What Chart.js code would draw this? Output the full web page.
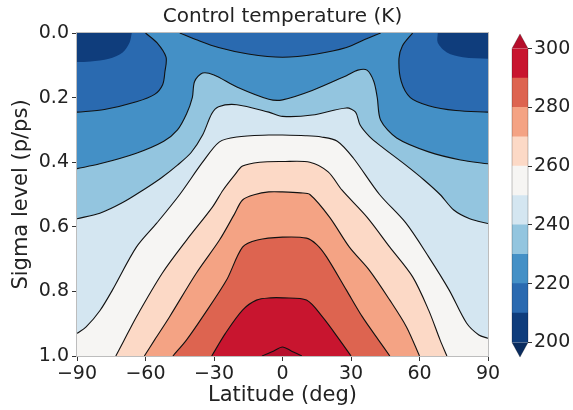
<!DOCTYPE html>
<html>
<head>
<meta charset="utf-8">
<script src="https://cdn.jsdelivr.net/npm/chart.js@4.4.1/dist/chart.umd.min.js"></script>
<style>
  html, body { margin: 0; padding: 0; background: #fff; }
  #wrap { position: relative; width: 573px; height: 410px; }
  #wrap canvas { position: absolute; left: 0; top: 0; }
</style>
</head>
<body>
<div id="wrap">
  <canvas id="tempChart" width="573" height="410" style="width:573px;height:410px"></canvas>
  <canvas id="cbarChart" width="573" height="410" style="width:573px;height:410px"></canvas>
</div>
<script>
// axes
const latRange = [-90, 90];
const sigmaRange = [0, 1];
const latStep = 30;
const sigmaStep = 0.2;

// contour levels (K) and fill colours for each interval
const levels = [200, 210, 220, 230, 240, 250, 260, 270, 280, 290, 300];
const bandColors = ['#0f3d7c', '#2a6ab0', '#4490c6', '#93c5df', '#d4e6f1', '#f6f5f3', '#fcd9c6', '#f4a384', '#dd6450', '#c8152f'];
const underColor = '#0a2c5e';
const overColor = '#b50e2b';

// contour lines, [latitude, sigma]
const c210West = [[-66, 0], [-67, 0.03], [-70, 0.06], [-76, 0.08], [-84, 0.088], [-90, 0.09]];
const c210East = [[68, 0], [68, 0.03], [72, 0.06], [79, 0.075], [90, 0.08]];
const c220West = [[-60, 0], [-55, 0.03], [-51, 0.075], [-51.5, 0.12], [-52.5, 0.16], [-56, 0.19], [-64, 0.213], [-78, 0.237], [-90, 0.245]];
const c220Mid = [[-45, 0], [-38, 0.02], [-28, 0.045], [-15, 0.065], [0, 0.075], [15, 0.065], [28, 0.045], [36, 0.02], [43, 0]];
const c220East = [[57, 0], [52.5, 0.04], [51, 0.08], [52, 0.15], [56, 0.2], [64, 0.225], [76, 0.24], [90, 0.245]];
const c230 = [[-90, 0.42], [-80, 0.405], [-64, 0.372], [-52, 0.335], [-46, 0.3], [-42, 0.25], [-39.5, 0.2], [-38.5, 0.15], [-35, 0.124],
    [-30, 0.13], [-20, 0.167], [-6, 0.205], [0, 0.207], [13, 0.178], [28, 0.132], [33, 0.115], [37, 0.115], [40, 0.15],
    [41.5, 0.2], [43, 0.27], [50, 0.325], [64, 0.368], [78, 0.393], [90, 0.405]];
const c240 = [[-90, 0.575], [-80, 0.558], [-70, 0.525], [-61, 0.486], [-53, 0.448], [-46, 0.409], [-40, 0.37], [-35, 0.316],
    [-31, 0.25], [-28, 0.228], [-20, 0.222], [-6, 0.245], [0, 0.258], [13, 0.254], [28, 0.232], [32, 0.245], [34, 0.285],
    [38, 0.32], [42.5, 0.347], [54, 0.409], [62, 0.455], [69, 0.5], [75, 0.548], [82, 0.575], [90, 0.59]];
const c250 = [[-90, 0.93], [-86, 0.91], [-80, 0.86], [-74.5, 0.796], [-64, 0.663], [-55, 0.588], [-45, 0.5], [-35, 0.4],
    [-27.6, 0.337], [-20, 0.322], [-6, 0.316], [0, 0.316], [10, 0.318], [17, 0.322], [24, 0.335], [31, 0.387], [42.5, 0.5],
    [54, 0.588], [64, 0.693], [73, 0.796], [80.6, 0.898], [86, 0.935], [90, 0.945]];
const c260 = [[-73, 1], [-70, 0.96], [-64, 0.879], [-52.6, 0.743], [-42, 0.641], [-30.7, 0.539], [-26, 0.486], [-21, 0.44],
    [-17.5, 0.412], [-10, 0.4], [0, 0.398], [12, 0.4], [20, 0.43], [26, 0.486], [37, 0.57], [47, 0.663], [57, 0.755],
    [64, 0.858], [69, 0.95], [72, 1]];
const c270 = [[-60.5, 1], [-56, 0.95], [-49.5, 0.879], [-37.7, 0.743], [-27.6, 0.641], [-21, 0.56], [-17.5, 0.517], [-12, 0.5],
    [-6, 0.492], [0, 0.492], [8, 0.495], [12, 0.5], [20.6, 0.57], [29.3, 0.663], [38, 0.734], [47, 0.827], [54.3, 0.91], [60, 1]];
const c280 = [[-48, 1], [-42, 0.95], [-35, 0.879], [-24.5, 0.765], [-17.5, 0.663], [-11, 0.641], [0, 0.632], [10.5, 0.635],
    [15, 0.655], [19.3, 0.693], [28, 0.796], [35, 0.879], [42, 0.95], [47, 1]];
const c290 = [[-31, 1], [-25, 0.93], [-17.5, 0.858], [-11.4, 0.827], [-5, 0.82], [0, 0.82], [10.5, 0.827], [17.5, 0.879], [25, 0.95], [30, 1]];
const c300 = [[-9, 1], [-4, 0.985], [0, 0.972], [4, 0.985], [8.5, 1]];

const textColor = '#222';
const fontFamily = "'DejaVu Sans', sans-serif";

// --- helpers to close the regions warmer than each level
function rev(a) { return a.slice().reverse(); }
function ends(a) { return [a[0], ...a, a[a.length - 1]]; }   // doubled ends keep edges straight
function pin(lat, s) { return [[lat, s], [lat, s]]; }
function xy(a) { return a.map(p => ({x: p[0], y: p[1]})); }

const west = latRange[0], east = latRange[1], bottom = sigmaRange[1];
const regions = [
    [...ends(rev(c210West)), ...ends(c210East), ...pin(east, bottom), ...pin(west, bottom)],
    [...ends(c220West), ...pin(west, bottom), ...pin(east, bottom), ...ends(rev(c220East)), ...ends(rev(c220Mid))],
    [...ends(c230), ...pin(east, bottom), ...pin(west, bottom)],
    [...ends(c240), ...pin(east, bottom), ...pin(west, bottom)],
    [...ends(c250), ...pin(east, bottom), ...pin(west, bottom)],
    ends(c260), ends(c270), ends(c280), ends(c290), ends(c300)
];
const regionColors = [...bandColors.slice(1), overColor];
const contourLines = [c220West, c220Mid, c220East, c230, c240, c250, c260, c270, c280, c290, c300];

const datasets = [];
contourLines.forEach(function (c) {
    datasets.push({data: xy(c), showLine: true, fill: false, borderColor: '#111', borderWidth: 1.1, pointRadius: 0, order: 0});
});
regions.forEach(function (r, k) {
    datasets.push({data: xy(r), showLine: true, fill: 'shape', backgroundColor: regionColors[k], borderWidth: 0, pointRadius: 0, order: 50 - k});
});

const plotBackground = {
    id: 'plotBackground',
    beforeDatasetsDraw(chart) {
        const a = chart.chartArea, ctx = chart.ctx;
        ctx.save();
        ctx.fillStyle = bandColors[0];
        ctx.fillRect(a.left, a.top, a.right - a.left, a.bottom - a.top);
        ctx.restore();
    },
    afterDatasetsDraw(chart) {
        const a = chart.chartArea, ctx = chart.ctx;
        ctx.save();
        ctx.strokeStyle = '#bdbdbd';
        ctx.lineWidth = 1;
        ctx.strokeRect(Math.round(a.left) - 0.5, Math.round(a.top) - 0.5, Math.round(a.right - a.left) + 1, Math.round(a.bottom - a.top) + 1);
        ctx.restore();
    }
};

const tickFont = {family: fontFamily, size: 19};
const labelFont = {family: fontFamily, size: 21};

new Chart(document.getElementById('tempChart'), {
    type: 'scatter',
    data: {datasets: datasets},
    plugins: [plotBackground],
    options: {
        responsive: false, animation: false, events: [], devicePixelRatio: 1,
        layout: {autoPadding: false, padding: {left: 0, right: 85, top: 0, bottom: 0}},
        elements: {line: {tension: 0.3}},
        plugins: {
            legend: {display: false}, tooltip: {enabled: false},
            title: {display: true, fullSize: false, text: 'Control temperature (K)', color: textColor,
                font: {family: fontFamily, size: 20, weight: 'normal'}, padding: {top: 5, bottom: 4}}
        },
        scales: {
            x: {
                type: 'linear', min: latRange[0], max: latRange[1],
                afterFit: function (s) { s.height = 54; },
                border: {display: false},
                grid: {drawOnChartArea: false, drawTicks: true, tickLength: 5, tickColor: '#333'},
                ticks: {stepSize: latStep, color: textColor, font: tickFont, padding: 2, maxRotation: 0,
                    callback: v => (v < 0 ? '\u2212' + Math.abs(v) : String(v))},
                title: {display: true, text: 'Latitude (deg)', color: textColor, font: labelFont, padding: {top: 0, bottom: 2}}
            },
            y: {
                type: 'linear', min: sigmaRange[0], max: sigmaRange[1], reverse: true,
                afterFit: function (s) { s.width = 77; },
                border: {display: false},
                grid: {drawOnChartArea: false, drawTicks: true, tickLength: 5, tickColor: '#333'},
                ticks: {stepSize: sigmaStep, color: textColor, font: tickFont, padding: 3,
                    callback: v => Number(v).toFixed(1)},
                title: {display: true, text: 'Sigma level (p/ps)', color: textColor, font: labelFont, padding: {top: 9, bottom: 0}}
            }
        }
    }
});

// --- colour bar
const cbarSets = bandColors.map(function (c, i) {
    return {data: [[levels[i], levels[i + 1]]], backgroundColor: c, borderWidth: 0};
});

const extendTips = {
    id: 'extendTips',
    afterDatasetsDraw(chart) {
        const a = chart.chartArea, ctx = chart.ctx, y = chart.scales.y;
        const top = y.getPixelForValue(levels[levels.length - 1]), bot = y.getPixelForValue(levels[0]);
        const ext = 0.05 * (bot - top), mid = (a.left + a.right) / 2;
        ctx.save();
        ctx.fillStyle = overColor;
        ctx.beginPath(); ctx.moveTo(a.left, top); ctx.lineTo(a.right, top); ctx.lineTo(mid, top - ext); ctx.closePath(); ctx.fill();
        ctx.fillStyle = underColor;
        ctx.beginPath(); ctx.moveTo(a.left, bot); ctx.lineTo(a.right, bot); ctx.lineTo(mid, bot + ext); ctx.closePath(); ctx.fill();
        ctx.strokeStyle = 'rgba(0,0,0,0.3)';
        ctx.lineWidth = 0.8;
        ctx.beginPath();
        ctx.moveTo(a.left, top); ctx.lineTo(mid, top - ext); ctx.lineTo(a.right, top);
        ctx.lineTo(a.right, bot); ctx.lineTo(mid, bot + ext); ctx.lineTo(a.left, bot); ctx.closePath();
        ctx.stroke();
        ctx.restore();
    }
};

new Chart(document.getElementById('cbarChart'), {
    type: 'bar',
    data: {labels: [''], datasets: cbarSets},
    plugins: [extendTips],
    options: {
        responsive: false, animation: false, events: [], devicePixelRatio: 1,
        layout: {autoPadding: false, padding: {left: 512, right: 0, top: 48.6, bottom: 67.6}},
        datasets: {bar: {grouped: false, barPercentage: 1, categoryPercentage: 1}},
        plugins: {legend: {display: false}, tooltip: {enabled: false}},
        scales: {
            x: {display: false},
            y: {
                position: 'right', min: levels[0], max: levels[levels.length - 1],
                afterFit: function (s) { s.width = 45; },
                border: {display: false},
                grid: {drawOnChartArea: false, drawTicks: true, tickLength: 4, tickColor: '#333'},
                ticks: {stepSize: 20, color: textColor, font: tickFont, padding: 2}
            }
        }
    }
});
</script>
</body>
</html>
